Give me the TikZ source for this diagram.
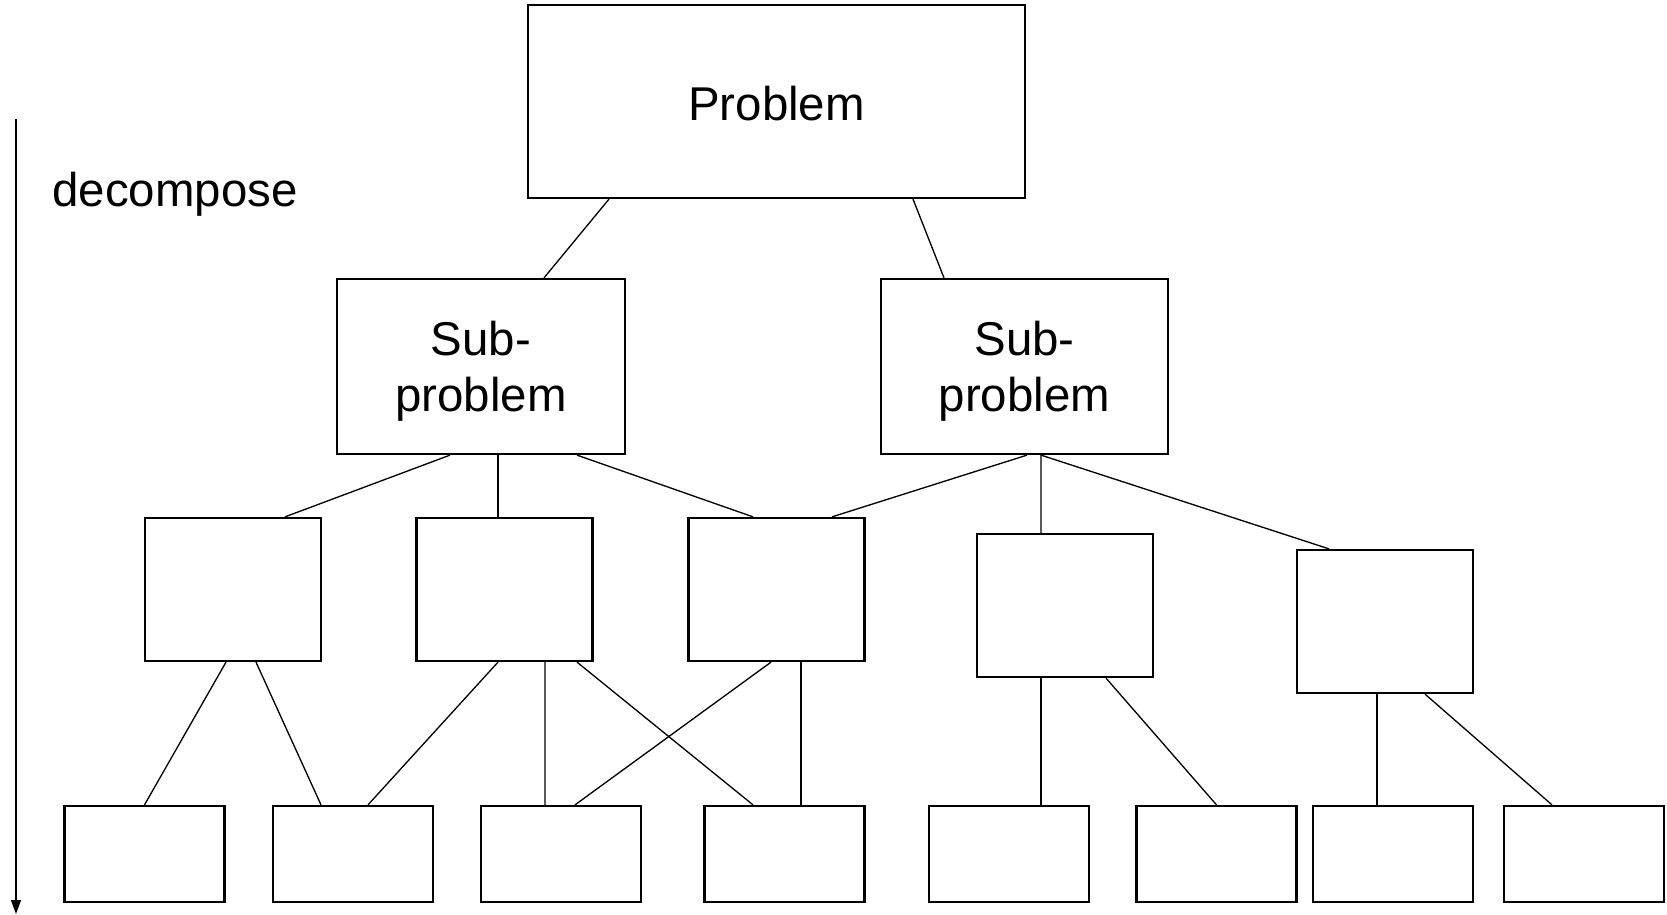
\documentclass[tikz,border=0pt]{standalone}
\usepackage{fontspec}
\setmainfont{Liberation Sans}
\usetikzlibrary{arrows.meta,calc}

\begin{document}
\begin{tikzpicture}[x=0.02cm, y=-0.02cm,
  box/.style={draw, line width=1.3pt, inner sep=0pt, align=center,
              font=\fontsize{27}{32}\selectfont},
  top/.style={box, minimum width=9.94cm, minimum height=3.86cm},
  mid/.style={box, minimum width=5.75cm, minimum height=3.5cm},
  leaf/.style={box, minimum width=3.52cm, minimum height=2.86cm},
  base/.style={box, minimum width=3.2cm, minimum height=1.92cm},
  link/.style={line width=0.75pt}]
\useasboundingbox (0,0) rectangle (1667,915);
% Problem and sub-problems
\node[top, text height=0.77cm] (prob) at (776.5,101.5) {Problem};
\node[mid] (subl) at (481,366.5) {\rule{0pt}{0.89cm}Sub-\\problem};
\node[mid] (subr) at (1024.5,366.5) {\rule{0pt}{0.89cm}Sub-\\problem};
% Third level
\node[leaf] (a) at (233,589.5) {};
\node[leaf] (b) at (504.5,589.5) {};
\node[leaf] (c) at (776.5,589.5) {};
\node[leaf] (d) at (1065,605.5) {};
\node[leaf] (e) at (1385,621.5) {};
% Bottom level
\foreach \n/\x in {1/144.5, 2/353, 3/561, 4/784.5, 5/1009, 6/1216.5, 7/1393, 8/1584}
  \node[base] (p\n) at (\x,854) {};
% Links
\draw[link] ($(prob.south)+(-167.5,0)$) -- ($(subl.north)+(63,0)$);
\draw[link] ($(prob.south)+(136.5,0)$) -- ($(subr.north)+(-80.5,0)$);
\draw[link] ($(subl.south)+(-31,0)$) -- ($(a.north)+(52,0)$);
\draw[link] ($(subl.south)+(17,0)$) -- ($(b.north)+(-6.5,0)$);
\draw[link] ($(subl.south)+(96,0)$) -- ($(c.north)+(-23.5,0)$);
\draw[link] ($(subr.south)+(2.5,0)$) -- ($(c.north)+(55.5,0)$);
\draw[link] ($(subr.south)+(16.5,0)$) -- ($(d.north)+(-24,0)$);
\draw[link] ($(subr.south)+(16.5,0)$) -- ($(e.north)+(-56,0)$);
\draw[link] ($(a.south)+(-7,0)$) -- (p1.north);
\draw[link] ($(a.south)+(23,0)$) -- ($(p2.north)+(-32,0)$);
\draw[link] ($(b.south)+(-6.5,0)$) -- ($(p2.north)+(15,0)$);
\draw[link] ($(b.south)+(40.5,0)$) -- ($(p3.north)+(-16,0)$);
\draw[link] ($(b.south)+(72.5,0)$) -- ($(p4.north)+(-31.5,0)$);
\draw[link] ($(c.south)+(-5.5,0)$) -- ($(p3.north)+(14,0)$);
\draw[link] ($(c.south)+(24.5,0)$) -- ($(p4.north)+(16.5,0)$);
\draw[link] ($(d.south)+(-24,0)$) -- ($(p5.north)+(32,0)$);
\draw[link] ($(d.south)+(41,0)$) -- (p6.north);
\draw[link] ($(e.south)+(-8,0)$) -- ($(p7.north)+(-16,0)$);
\draw[link] ($(e.south)+(40,0)$) -- ($(p8.north)+(-32,0)$);
% Decompose arrow
\coordinate (start) at (16,119);
\coordinate (stop) at (16,914);
\draw[line width=0.7pt, -{Triangle[length=0.28cm, width=0.2cm]}] (start) -- (stop);
\node[font=\fontsize{27}{32}\selectfont] (dec) at (175,194) {decompose};
\end{tikzpicture}
\end{document}
